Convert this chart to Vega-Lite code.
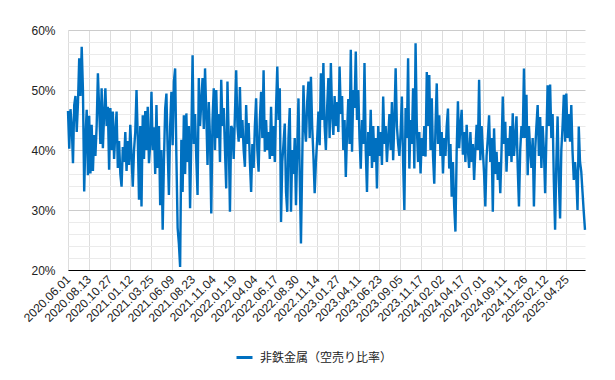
{
  "$schema": "https://vega.github.io/schema/vega-lite/v6.json",
  "width": 517,
  "height": 240,
  "autosize": {"type": "none"},
  "padding": {"left": 68, "top": 30, "right": 30, "bottom": 110},
  "background": "white",
  "config": {"view": {"stroke": null}, "font": "Liberation Sans"},
  "data": {"values": [
{"t":0,"v":46.5},{"t":3,"v":40.2},{"t":6,"v":46.8},{"t":9,"v":44},{"t":12,"v":37.8},{"t":15,"v":47.5},{"t":18,"v":49},{"t":21,"v":43},{"t":24,"v":47.8},{"t":27,"v":55.3},
{"t":30,"v":49},{"t":33,"v":57.2},{"t":36,"v":50},{"t":39,"v":33.1},{"t":42,"v":42},{"t":45,"v":46.7},{"t":48,"v":35.8},{"t":51,"v":45.7},{"t":54,"v":36.1},{"t":57,"v":44.2},
{"t":60,"v":36.5},{"t":63,"v":42.5},{"t":66,"v":39},{"t":69,"v":44},{"t":72,"v":52.8},{"t":75,"v":47},{"t":78,"v":41},{"t":81,"v":50.3},{"t":84,"v":40.3},{"t":87,"v":46},
{"t":90,"v":50.3},{"t":93,"v":44},{"t":96,"v":47.2},{"t":99,"v":36.7},{"t":102,"v":47},{"t":105,"v":40},{"t":108,"v":46.4},{"t":111,"v":38.5},{"t":114,"v":43},{"t":117,"v":46.4},
{"t":120,"v":37},{"t":123,"v":41.5},{"t":126,"v":36},{"t":129,"v":33.9},{"t":132,"v":40.5},{"t":135,"v":38},{"t":138,"v":43},{"t":141,"v":36.5},{"t":144,"v":41.5},{"t":147,"v":37.5},
{"t":150,"v":44.2},{"t":153,"v":39},{"t":156,"v":33.9},{"t":159,"v":40},{"t":162,"v":43},{"t":165,"v":50},{"t":168,"v":42},{"t":171,"v":31.7},{"t":174,"v":44},{"t":177,"v":30.6},
{"t":180,"v":45.8},{"t":183,"v":38.5},{"t":186,"v":46.5},{"t":189,"v":40},{"t":192,"v":47.2},{"t":195,"v":37.8},{"t":198,"v":41},{"t":201,"v":49.7},{"t":204,"v":40},{"t":207,"v":43.8},
{"t":210,"v":36},{"t":213,"v":47.5},{"t":216,"v":37},{"t":219,"v":44},{"t":222,"v":30.8},{"t":225,"v":40},{"t":228,"v":26.7},{"t":231,"v":38},{"t":234,"v":46.9},{"t":237,"v":49.4},
{"t":240,"v":40},{"t":243,"v":32.5},{"t":246,"v":44},{"t":249,"v":49.7},{"t":252,"v":40.8},{"t":255,"v":51.4},{"t":258,"v":53.6},{"t":261,"v":39},{"t":264,"v":27},{"t":267,"v":24.4},
{"t":270,"v":20.5},{"t":273,"v":41.7},{"t":276,"v":33},{"t":279,"v":45.8},{"t":282,"v":36},{"t":285,"v":46.1},{"t":288,"v":38},{"t":291,"v":44},{"t":294,"v":30.3},{"t":297,"v":42},
{"t":300,"v":55.8},{"t":303,"v":41},{"t":306,"v":46},{"t":309,"v":38.5},{"t":312,"v":32.5},{"t":315,"v":52},{"t":318,"v":44},{"t":321,"v":48},{"t":324,"v":52},{"t":327,"v":43.5},
{"t":330,"v":53.6},{"t":333,"v":46},{"t":336,"v":37.5},{"t":339,"v":48},{"t":342,"v":42},{"t":345,"v":29.4},{"t":348,"v":45},{"t":351,"v":50.3},{"t":354,"v":40},{"t":357,"v":50},
{"t":360,"v":42},{"t":363,"v":46},{"t":366,"v":38},{"t":369,"v":51.7},{"t":372,"v":44},{"t":375,"v":47},{"t":378,"v":40},{"t":381,"v":33.6},{"t":384,"v":51.4},{"t":387,"v":42},
{"t":390,"v":29.7},{"t":393,"v":44},{"t":396,"v":43.5},{"t":399,"v":38.5},{"t":402,"v":46},{"t":405,"v":53.3},{"t":408,"v":44},{"t":411,"v":41.4},{"t":414,"v":50.5},{"t":417,"v":42},
{"t":420,"v":45},{"t":423,"v":40},{"t":426,"v":37.2},{"t":429,"v":47.5},{"t":432,"v":41},{"t":435,"v":44.5},{"t":438,"v":38},{"t":441,"v":33},{"t":444,"v":41},{"t":447,"v":37},
{"t":450,"v":44},{"t":453,"v":48.6},{"t":456,"v":40},{"t":459,"v":36.4},{"t":462,"v":45},{"t":465,"v":49.7},{"t":468,"v":42},{"t":471,"v":53.3},{"t":474,"v":39.7},{"t":477,"v":45},
{"t":480,"v":40},{"t":483,"v":43},{"t":486,"v":38.5},{"t":489,"v":47.2},{"t":492,"v":39},{"t":495,"v":44},{"t":498,"v":38},{"t":501,"v":47},{"t":504,"v":53.9},{"t":507,"v":45},
{"t":510,"v":50.3},{"t":513,"v":28},{"t":516,"v":38},{"t":519,"v":41.1},{"t":522,"v":44.4},{"t":525,"v":33},{"t":528,"v":29.7},{"t":531,"v":42},{"t":534,"v":47},{"t":537,"v":29.7},
{"t":540,"v":40},{"t":543,"v":36},{"t":546,"v":42},{"t":549,"v":30.8},{"t":552,"v":40},{"t":555,"v":48.6},{"t":558,"v":36},{"t":561,"v":24.4},{"t":564,"v":38},{"t":567,"v":50.8},
{"t":570,"v":44},{"t":573,"v":41.4},{"t":576,"v":48},{"t":579,"v":51.4},{"t":582,"v":42},{"t":585,"v":52.2},{"t":588,"v":44},{"t":591,"v":39},{"t":594,"v":32.8},{"t":597,"v":38},
{"t":600,"v":41.7},{"t":603,"v":46.4},{"t":606,"v":40.8},{"t":609,"v":52.8},{"t":612,"v":45},{"t":615,"v":54.5},{"t":618,"v":44},{"t":621,"v":40},{"t":624,"v":47},{"t":627,"v":52},
{"t":630,"v":42},{"t":633,"v":54.5},{"t":636,"v":46},{"t":639,"v":42.5},{"t":642,"v":49},{"t":645,"v":44},{"t":648,"v":48},{"t":651,"v":43},{"t":654,"v":53.9},{"t":657,"v":46},
{"t":660,"v":49},{"t":663,"v":40},{"t":666,"v":45},{"t":669,"v":35.5},{"t":672,"v":43},{"t":675,"v":48.5},{"t":678,"v":41},{"t":681,"v":56.7},{"t":684,"v":39.7},{"t":687,"v":50},
{"t":690,"v":47},{"t":693,"v":56.4},{"t":696,"v":45},{"t":699,"v":50},{"t":702,"v":42},{"t":705,"v":36.9},{"t":708,"v":45},{"t":711,"v":41},{"t":714,"v":54.5},{"t":717,"v":40},
{"t":720,"v":33},{"t":723,"v":43},{"t":726,"v":39},{"t":729,"v":46.7},{"t":732,"v":37},{"t":735,"v":44},{"t":738,"v":38},{"t":741,"v":42},{"t":744,"v":33.6},{"t":747,"v":44},
{"t":750,"v":39},{"t":753,"v":43},{"t":756,"v":37.5},{"t":759,"v":48.9},{"t":762,"v":41},{"t":765,"v":44},{"t":768,"v":38},{"t":771,"v":42},{"t":774,"v":46},{"t":777,"v":40},
{"t":780,"v":48},{"t":783,"v":38.3},{"t":786,"v":45},{"t":789,"v":53.6},{"t":792,"v":44},{"t":795,"v":41},{"t":798,"v":39},{"t":801,"v":43},{"t":804,"v":48.9},{"t":807,"v":38},
{"t":810,"v":30},{"t":813,"v":47},{"t":816,"v":42},{"t":819,"v":55.3},{"t":822,"v":36.9},{"t":825,"v":45},{"t":828,"v":41},{"t":831,"v":50.3},{"t":834,"v":36.9},{"t":837,"v":57.8},
{"t":840,"v":44},{"t":843,"v":38},{"t":846,"v":43},{"t":849,"v":36.1},{"t":852,"v":42},{"t":855,"v":39},{"t":858,"v":44},{"t":861,"v":38.9},{"t":864,"v":53},{"t":867,"v":44},
{"t":870,"v":52.5},{"t":873,"v":40},{"t":876,"v":48.6},{"t":879,"v":39},{"t":882,"v":34.4},{"t":885,"v":44},{"t":888,"v":51.1},{"t":891,"v":41},{"t":894,"v":45.8},{"t":897,"v":39},
{"t":900,"v":43},{"t":903,"v":36.1},{"t":906,"v":42},{"t":909,"v":39},{"t":912,"v":44},{"t":915,"v":46.9},{"t":918,"v":36.9},{"t":921,"v":41},{"t":924,"v":32.2},{"t":927,"v":38},
{"t":930,"v":30.6},{"t":933,"v":26.4},{"t":936,"v":40},{"t":939,"v":48.1},{"t":942,"v":40.3},{"t":945,"v":44},{"t":948,"v":46.7},{"t":951,"v":39.2},{"t":954,"v":43},{"t":957,"v":38},
{"t":960,"v":44.2},{"t":963,"v":40},{"t":966,"v":37},{"t":969,"v":43},{"t":972,"v":38},{"t":975,"v":41},{"t":978,"v":35},{"t":981,"v":40},{"t":984,"v":44.2},{"t":987,"v":40},
{"t":990,"v":51.7},{"t":993,"v":38.3},{"t":996,"v":44},{"t":999,"v":40},{"t":1002,"v":36},{"t":1005,"v":30.6},{"t":1008,"v":39},{"t":1011,"v":42},{"t":1014,"v":45.8},{"t":1017,"v":38},
{"t":1020,"v":42},{"t":1023,"v":29.7},{"t":1026,"v":43.6},{"t":1029,"v":36},{"t":1032,"v":39.7},{"t":1035,"v":35},{"t":1038,"v":38},{"t":1041,"v":32.8},{"t":1044,"v":40},{"t":1047,"v":48.9},
{"t":1050,"v":41},{"t":1053,"v":44.7},{"t":1056,"v":36.4},{"t":1059,"v":42},{"t":1062,"v":39},{"t":1065,"v":44},{"t":1068,"v":38},{"t":1071,"v":46.1},{"t":1074,"v":39},{"t":1077,"v":42},
{"t":1080,"v":45.6},{"t":1083,"v":37},{"t":1086,"v":30.6},{"t":1089,"v":40},{"t":1092,"v":44},{"t":1095,"v":42},{"t":1098,"v":53.6},{"t":1101,"v":42},{"t":1104,"v":49.2},{"t":1107,"v":35.8},
{"t":1110,"v":44},{"t":1113,"v":40},{"t":1116,"v":37},{"t":1119,"v":42},{"t":1122,"v":30.6},{"t":1125,"v":40},{"t":1128,"v":44},{"t":1131,"v":47.5},{"t":1134,"v":39},{"t":1137,"v":45.5},
{"t":1140,"v":37},{"t":1143,"v":44},{"t":1146,"v":40},{"t":1149,"v":32.8},{"t":1152,"v":42},{"t":1155,"v":50.8},{"t":1158,"v":44},{"t":1161,"v":50.9},{"t":1164,"v":42},{"t":1167,"v":46},
{"t":1170,"v":34.7},{"t":1173,"v":26.7},{"t":1176,"v":38},{"t":1179,"v":45.6},{"t":1182,"v":35},{"t":1185,"v":28.6},{"t":1188,"v":40},{"t":1191,"v":44},{"t":1194,"v":49.2},{"t":1197,"v":41.4},
{"t":1200,"v":49.4},{"t":1203,"v":42},{"t":1206,"v":46},{"t":1209,"v":41.4},{"t":1212,"v":47.5},{"t":1215,"v":39.7},{"t":1218,"v":35},{"t":1221,"v":38},{"t":1224,"v":35.5},{"t":1227,"v":30},
{"t":1230,"v":43.9},{"t":1233,"v":38},{"t":1236,"v":36.4},{"t":1239,"v":33},{"t":1242,"v":29.7},{"t":1245,"v":26.7}
  ]},
  "mark": {"type": "line", "strokeWidth": 2.4},
  "encoding": {
    "x": {
      "field": "t",
      "type": "quantitative",
      "scale": {"domain": [0, 1245], "nice": false, "zero": false},
      "axis": {
        "title": null,
        "values": [0,50,100,150,200,250,300,350,400,450,500,550,600,650,700,750,800,850,900,950,1000,1050,1100,1150,1200],
        "labelExpr": "['2020.06.01','2020.08.13','2020.10.27','2021.01.12','2021.03.25','2021.06.09','2021.08.23','2021.11.04','2022.01.19','2022.04.04','2022.06.17','2022.08.30','2022.11.14','2023.01.27','2023.04.11','2023.06.23','2023.09.05','2023.11.17','2024.02.02','2024.04.17','2024.07.01','2024.09.11','2024.11.26','2025.02.12','2025.04.25'][round(datum.value / 50)]",
        "labelAngle": -45,
        "labelAlign": "right",
        "labelBaseline": "middle",
        "labelPadding": 7,
        "labelFontSize": 12,
        "labelColor": "#222222",
        "labelFont": "Liberation Sans",
        "labelOverlap": false,
        "labelBound": false,
        "ticks": false,
        "domain": true,
        "domainColor": "#000000",
        "domainWidth": 1,
        "grid": true,
        "gridColor": "#dddddd",
        "gridWidth": 1
      }
    },
    "y": {
      "field": "v",
      "type": "quantitative",
      "scale": {"domain": [20, 60], "nice": false, "zero": false},
      "axis": {
        "title": null,
        "values": [20,22,24,26,28,30,32,34,36,38,40,42,44,46,48,50,52,54,56,58,60],
        "labelExpr": "datum.value % 10 === 0 ? datum.value + '%' : ''",
        "labelFontSize": 12,
        "labelColor": "#222222",
        "labelFont": "Liberation Sans",
        "labelPadding": 13,
        "labelOverlap": false,
        "ticks": false,
        "domain": false,
        "grid": true,
        "gridColor": {"condition": {"test": "datum.value % 10 === 0", "value": "#cccccc"}, "value": "#ebebeb"},
        "gridWidth": 1
      }
    },
    "color": {
      "datum": "非鉄金属（空売り比率）",
      "type": "nominal",
      "scale": {"range": ["#0070c0"]},
      "legend": {
        "title": null,
        "orient": "none",
        "legendX": 167,
        "legendY": 318,
        "symbolType": "stroke",
        "symbolSize": 256,
        "symbolStrokeWidth": 3,
        "labelFontSize": 12,
        "labelColor": "#222222",
        "labelFont": "Liberation Sans, Noto Sans CJK JP",
        "labelOffset": 6
      }
    }
  }
}
